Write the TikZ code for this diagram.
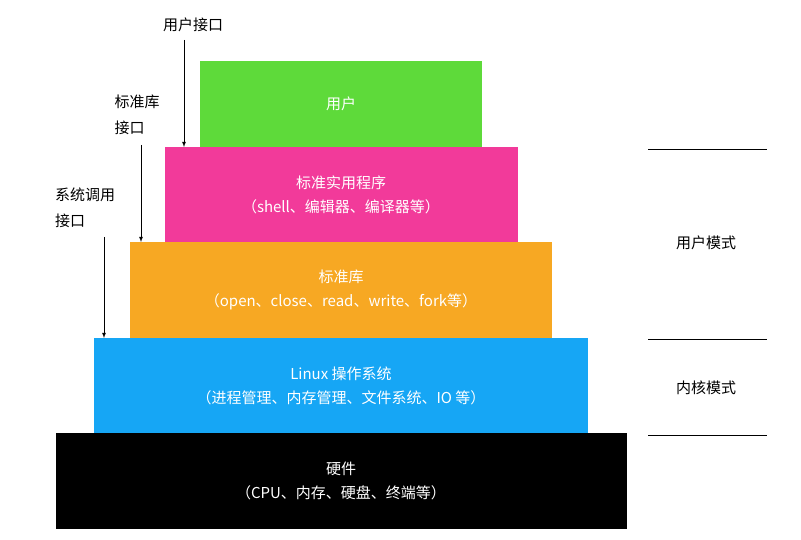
\documentclass[tikz,border=0pt]{standalone}
\usepackage{fontspec}
\setmainfont{Noto Sans CJK SC}
\begin{document}
\begin{tikzpicture}[x=1pt,y=-1pt,
 lay/.style={draw=none,inner sep=0pt,align=center,text=white,font=\fontsize{15}{24}\selectfont},
 lab/.style={inner sep=0pt,align=left,font=\fontsize{15}{26}\selectfont},
 arr/.style={-{latex},line width=0.8pt}]
\useasboundingbox (0,0) rectangle (801,540);
\fill[fill={rgb,255:red,94;green,218;blue,58}] (200,61) rectangle (482,147);
\node[lay] (u) at (341,104) {用户};
\fill[fill={rgb,255:red,242;green,58;blue,154}] (165,147) rectangle (518,242);
\node[lay] (s) at (341,195) {标准实用程序\\（shell、编辑器、编译器等）};
\fill[fill={rgb,255:red,247;green,168;blue,35}] (130,242) rectangle (552,338);
\node[lay] (l) at (341,290) {标准库\\（open、close、read、write、fork等）};
\fill[fill={rgb,255:red,22;green,166;blue,245}] (94,338) rectangle (588,433);
\node[lay] (k) at (341,386) {Linux 操作系统\\（进程管理、内存管理、文件系统、IO 等）};
\fill[black] (56,433) rectangle (627,529);
\node[lay] (h) at (341,481) {硬件\\（CPU、内存、硬盘、终端等）};
\node[lab] (t1) at (193,25) {用户接口};
\node[lab] (t2) at (137,115) {标准库\\接口};
\node[lab] (t3) at (85,208) {系统调用\\接口};
\coordinate (a1) at (184,40); \coordinate (b1) at (184,147);
\coordinate (a2) at (141,145); \coordinate (b2) at (141,242);
\coordinate (a3) at (104,237); \coordinate (b3) at (104,338);
\draw[arr] (a1) -- (b1);
\draw[arr] (a2) -- (b2);
\draw[arr] (a3) -- (b3);
\coordinate (r1) at (648,149); \coordinate (r1e) at (767,149);
\coordinate (r2) at (648,339); \coordinate (r2e) at (767,339);
\coordinate (r3) at (648,435); \coordinate (r3e) at (767,435);
\draw[line width=0.8pt] (r1) -- (r1e) (r2) -- (r2e) (r3) -- (r3e);
\node[lab] (m1) at (706,243) {用户模式};
\node[lab] (m2) at (706,388) {内核模式};
\end{tikzpicture}
\end{document}
